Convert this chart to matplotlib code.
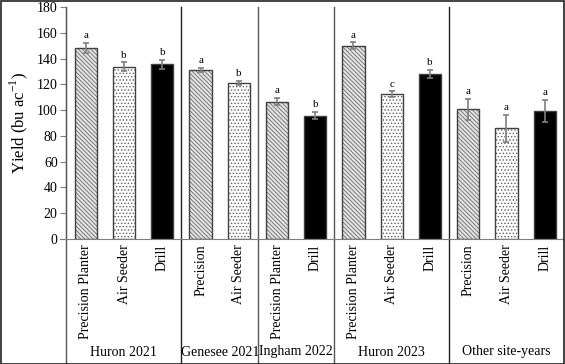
import numpy as np
import matplotlib.pyplot as plt
from matplotlib.patches import Rectangle
from matplotlib.transforms import blended_transform_factory

plt.rcParams["font.family"] = ["Liberation Serif", "DejaVu Serif"]
plt.rcParams["mathtext.fontset"] = "custom"
plt.rcParams["mathtext.rm"] = "Liberation Serif"
plt.rcParams["hatch.linewidth"] = 0.6

# data
sites = ["Huron 2021", "Genesee 2021", "Ingham 2022", "Huron 2023", "Other site-years"]
site_sizes = [3, 2, 2, 3, 3]
labels = ["Precision Planter", "Air Seeder", "Drill",
          "Precision", "Air Seeder",
          "Precision Planter", "Drill",
          "Precision Planter", "Air Seeder", "Drill",
          "Precision", "Air Seeder", "Drill"]
kinds = ["pp", "as", "dr",
         "pp", "as",
         "pp", "dr",
         "pp", "as", "dr",
         "pp", "as", "dr"]
yields = [148, 133.5, 135.5,
          131, 121.3,
          106.5, 95.8,
          150, 112.5, 128.3,
          100.7, 85.8, 99.2]
errors = [4, 3.5, 3.5,
          1.5, 1.5,
          2.8, 3,
          2.5, 2, 3,
          8, 10.5, 8.5]
letters = ["a", "b", "b",
           "a", "b",
           "a", "b",
           "a", "c", "b",
           "a", "a", "a"]

fills = {
    "pp": dict(facecolor="#e4e4e4", hatch="\\\\\\\\\\\\\\\\", edgecolor="#6a6a6a"),
    "as": dict(facecolor="white", hatch=".....", edgecolor="#606060"),
    "dr": dict(facecolor="black", hatch=None, edgecolor="black"),
}

W, H = 565, 364
fig = plt.figure(figsize=(W / 100, H / 100), dpi=100)
ax = fig.add_axes([66 / W, (H - 239) / H, (563 - 66) / W, 232 / H])

x = np.arange(len(yields))
for xi, y, k in zip(x, yields, kinds):
    ax.bar(xi, y, width=0.58, linewidth=0, zorder=2, **fills[k])
    ax.bar(xi, y, width=0.58, fill=False, edgecolor="#404040",
           linewidth=1.0, zorder=2.5)
ax.errorbar(x, yields, yerr=errors, fmt="none", ecolor="#7f7f7f",
            elinewidth=1.2, capsize=2.5, capthick=1.2, zorder=3)
for xi, y, e, t in zip(x, yields, errors, letters):
    ax.annotate(t, (xi, y + e), xytext=(0, 2), textcoords="offset points",
                ha="center", va="bottom", fontsize=8)

ax.set_xlim(-0.52, 12.48)
ax.set_ylim(0, 180)
ax.set_yticks(np.arange(0, 181, 20))
ax.tick_params(axis="y", labelsize=10, length=4, color="#7f7f7f", pad=2)
ax.set_xticks(x)
ax.set_xticklabels(labels, rotation=90, fontsize=10, va="top")
ax.tick_params(axis="x", length=0, pad=4)
ax.set_ylabel("Yield (bu ac$^{-1}$)", fontsize=12, labelpad=5)
for s in ["top", "right"]:
    ax.spines[s].set_visible(False)
ax.spines["bottom"].set_color("#7f7f7f")
ax.spines["left"].set_color("#555555")
ax.spines["bottom"].set_bounds(-0.52 - 6 / 38.25, 12.48)

# group separators and group names below the axis
tr = blended_transform_factory(ax.transData, ax.transAxes)
bottom_ax = -(H - 239) / 232
bounds = np.cumsum([0] + site_sizes) - 0.5
bounds[0] = -0.52
bounds[-1] = 12.48
for b in bounds[:-1]:
    col = "#555555" if b in (-0.52, 4.5, 6.5) else "#222222"
    ax.plot([b, b], [1, bottom_ax], transform=tr, color=col, lw=1,
            clip_on=False, zorder=1)
for i, s in enumerate(sites):
    c = (bounds[i] + bounds[i + 1]) / 2
    ax.text(c, -(352 - 239) / 232, s, transform=tr, ha="center",
            va="center", fontsize=10)

fig.patches.append(Rectangle((0.5 / W, 0.5 / H), 1 - 1.5 / W, 1 - 1.5 / H,
                             transform=fig.transFigure, fill=False,
                             edgecolor="#222222", lw=1.2))

fig.savefig("out.png", dpi=100)
